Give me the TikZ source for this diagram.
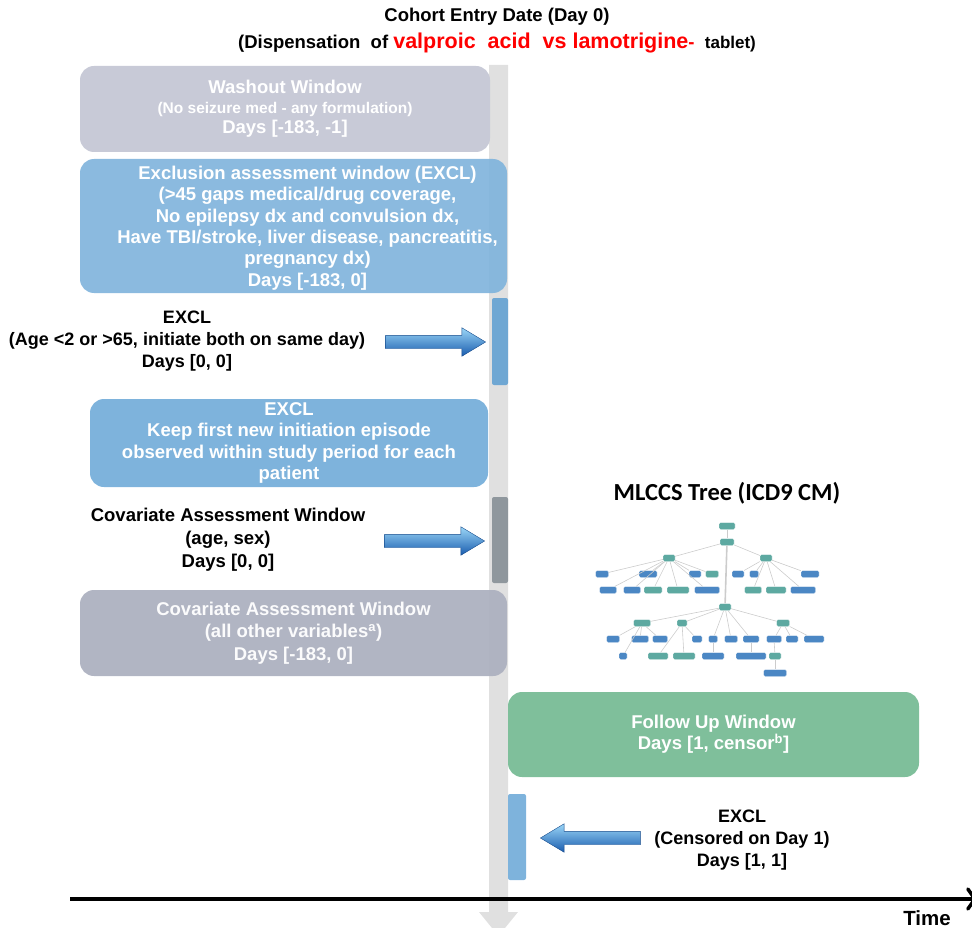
\documentclass[tikz,border=0pt]{standalone}
\usepackage{fontspec}
\setmainfont{Liberation Sans}
\newfontfamily\calibri{Carlito}
\usetikzlibrary{shapes.arrows,arrows.meta,positioning}
\definecolor{washgray}{HTML}{C8CAD7}
\definecolor{exclblue}{HTML}{7EB3DC}
\definecolor{covgray}{HTML}{ADB1C0}
\definecolor{fugreen}{HTML}{7FBF9B}
\definecolor{axisgray}{HTML}{E0E0E0}
\definecolor{bardark}{HTML}{8F979D}
\definecolor{barblue}{HTML}{6FA7D3}
\definecolor{treeblue}{HTML}{4B87C4}
\definecolor{treeteal}{HTML}{5DA9A1}
\definecolor{arrtop}{HTML}{9AD6F7}
\definecolor{arrmid}{HTML}{2F8FE0}
\definecolor{arrbot}{HTML}{1A5CAE}

\begin{document}
\begin{tikzpicture}[x=1pt,y=-1pt]
\tikzset{win box/.style={rounded corners=14pt, inner sep=0pt, text=white, align=center, font=\fontsize{18.5}{21.4}\selectfont\bfseries}}
\tikzset{lbl text/.style={align=center, font=\fontsize{18}{22}\selectfont\bfseries}}
\tikzset{day bar/.style={rounded corners=2pt, inner sep=0pt, minimum width=16pt}}
\tikzset{blk arrow/.style={single arrow, inner xsep=0pt, inner ysep=6.5pt, minimum height=100pt, minimum width=28pt, single arrow head extend=7.5pt, single arrow tip angle=62, single arrow head indent=0pt, shading=axis, top color=arrtop, middle color=arrmid, bottom color=arrbot, draw=arrbot!80!black, line width=0.4pt}}
\tikzset{tree node/.style={rounded corners=1.5pt, minimum height=7pt, inner sep=0pt, draw=white, line width=0.3pt}}
\tikzset{tree edge/.style={draw=black!20, line width=0.6pt}}

\useasboundingbox (0,0) rectangle (972,928);

% day 0 axis
\fill[axisgray] (489,65) -- (508,65) -- (508,912) -- (518,912) -- (498.5,936) -- (479,912) -- (489,912) -- cycle;

\node[align=center, font=\fontsize{18.5}{27}\selectfont\bfseries] (title) at (497,31)
  {Cohort Entry Date (Day 0)\\
   (Dispensation\ \ of {\color{red}\fontsize{21.5}{24}\selectfont valproic\ \ acid\ \ vs lamotrigine}{\color{red}-}\ \ {\fontsize{17}{20}\selectfont tablet)}};

\node[win box, fill=washgray, minimum width=410pt, minimum height=86pt] (washout) at (285,109)
  {Washout Window\\[-2pt]
   {\fontsize{15.5}{18}\selectfont (No seizure med - any formulation)}\\[-1pt]
   Days [-183, -1]};

\node[win box, fill=exclblue, fill opacity=0.9, minimum width=427pt, minimum height=134pt] (exclbox) at (293.5,226) {};
\node[win box, xshift=14pt, yshift=-2pt] (excltext) at (exclbox.center)
  {Exclusion assessment window (EXCL)\\
   (>45 gaps medical/drug coverage,\\
   No epilepsy dx and convulsion dx,\\
   Have TBI/stroke, liver disease, pancreatitis,\\
   pregnancy dx)\\
   Days [-183, 0]};

\node[day bar, fill=barblue, minimum height=87pt] (bar1) at (500,341.5) {};
\node[lbl text] (excl1) at (187,341) {EXCL\\(Age <2 or >65, initiate both on same day)\\Days [0, 0]};
\node[blk arrow] (arr1) at (430,342) {};

\node[win box, fill=exclblue, minimum width=398pt, minimum height=88pt] (exclbox2) at (289,443)
  {EXCL\\Keep first new initiation episode\\observed within study period for each\\patient};

\node[day bar, fill=bardark, minimum height=86pt] (bar2) at (500,540) {};
\node[lbl text, font=\fontsize{18.5}{23}\selectfont\bfseries] (covlbl) at (228,540) {Covariate Assessment Window\\(age, sex)\\Days [0, 0]};
\node[blk arrow] (arr2) at (429,541) {};

\node[win box, fill=covgray, fill opacity=0.95, minimum width=427pt, minimum height=86pt] (covbox) at (293.5,633)
  {Covariate Assessment Window\\[1pt](all other variables\textsuperscript{a})\\[1pt]Days [-183, 0]};

% MLCCS tree
\node[font=\calibri\fontsize{24.5}{28}\selectfont\bfseries] (treetitle) at (727,493) {MLCCS Tree (ICD9 CM)};
\foreach \n/\x/\y/\w/\c in {r0/727/526/16/treeteal, r1/727/542/14/treeteal,
  a/669/558/12/treeteal, b/766/558/12/treeteal,
  a1/602/574/13/treeblue, a2/648/574/18/treeblue, a3/695/574/12/treeblue, a4/712/574/13/treeteal,
  a5/608/590/17/treeblue, a6/632/590/17/treeblue, a7/653/590/18/treeteal, a8/678/590/22/treeteal, a9/707/590/25/treeblue,
  b1/738/574/12/treeblue, b2/754/574/9/treeblue, b3/810/574/18/treeblue,
  b4/753/590/17/treeteal, b5/776/590/20/treeteal, b6/803/590/25/treeblue,
  g/725/607/12/treeteal, c/642/623/17/treeteal, d/682/623/10/treeteal, e/783/623/13/treeteal,
  c1/613/639/13/treeblue, c2/640/639/17/treeblue, c3/660/639/15/treeblue, d1/697/639/10/treeblue,
  g1/713/639/9/treeblue, g2/731/639/13/treeblue, g3/751/639/16/treeblue,
  e1/774/639/15/treeblue, e2/792/639/12/treeblue, e3/814/639/20/treeblue,
  c4/623/656/8/treeblue, d2/658/656/20/treeteal, d3/684/656/22/treeteal,
  g4/713/656/22/treeblue, g5/751/656/30/treeblue, e4/775/656/12/treeteal,
  e5/775/673/23/treeblue}
  \node[tree node, fill=\c, minimum width=\w pt] (t\n) at (\x,\y) {};
\foreach \p/\q in {r0/r1, r1/a, r1/b, a/a1, a/a2, a/a3, a/a4, a/a5, a/a6, a/a7, a/a8, a/a9,
  b/b1, b/b2, b/b3, b/b4, b/b5, b/b6, g/c, g/d, g/e, c/c1, c/c2, c/c3, c/c4,
  d/d1, d/d2, d/d3, g/g1, g/g2, g/g3, g1/g4, g3/g5, e/e1, e/e2, e/e3, e1/e4, e4/e5}
  \draw[tree edge] (t\p) -- (t\q);
\draw[tree edge, line width=1.6pt] (tr1) -- (tg);

\node[win box, fill=fugreen, minimum width=411pt, minimum height=85pt] (followup) at (713.5,734.5)
  {Follow Up Window\\Days [1, censor\textsuperscript{b}]};

\node[day bar, fill=exclblue, minimum width=18pt, minimum height=86pt] (bar3) at (517,837) {};
\node[blk arrow, shape border rotate=180] (arr3) at (596,838) {};
\node[lbl text] (excl3) at (742,840) {EXCL\\(Censored on Day 1)\\Days [1, 1]};

% time axis
\coordinate (t0) at (70,899);
\coordinate (t1) at (977,899);
\draw[line width=3.5pt, -{Straight Barb[length=7pt, width=20pt, line cap=round]}] (t0) -- (t1);
\node[font=\fontsize{20.5}{24}\selectfont\bfseries] (timelbl) at (927,918) {Time};
\end{tikzpicture}
\end{document}
